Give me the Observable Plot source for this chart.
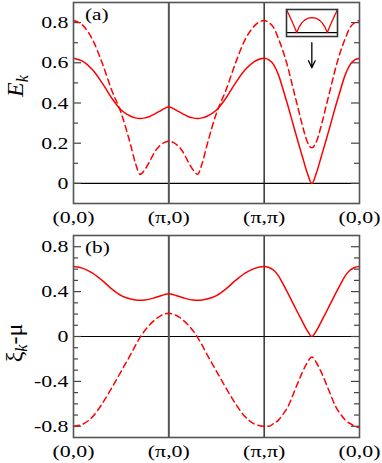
<!DOCTYPE html>
<html><head><meta charset="utf-8">
<script src="https://cdn.jsdelivr.net/npm/d3@7"></script>
<script src="https://cdn.jsdelivr.net/npm/@observablehq/plot@0.6"></script>
<style>
body{margin:0;background:#fff}
#root{position:relative;width:382px;height:463px;overflow:hidden}
#root svg{display:block}
</style>
</head><body><div id="root"></div>
<script>
// path coordinate: 0=(0,0), 1=(pi,0), 2=(pi,pi), 3=(0,0)
const kPath = [0,0.1,0.2,0.3,0.4,0.5,0.6,0.65,0.7,0.75,0.8,0.85,0.9,0.95,1.0,
  1.05,1.1,1.15,1.2,1.25,1.3,1.35,1.4,1.5,1.6,1.7,1.8,1.9,2.0,
  2.05,2.1,2.15,2.2,2.25,2.3,2.35,2.4,2.45,2.5,2.55,2.6,2.65,2.7,2.75,2.8,2.85,2.9,2.95,3.0];
// solid band (same curve in panels a and b)
const bandSolid = [0.623,0.607,0.565,0.50,0.425,0.365,0.334,0.326,0.323,0.326,0.333,0.345,0.358,0.372,0.38,
  0.372,0.358,0.345,0.333,0.326,0.323,0.326,0.334,0.365,0.425,0.50,0.565,0.607,0.623,
  0.615,0.59,0.54,0.465,0.385,0.30,0.216,0.135,0.055,0.0,0.055,0.135,0.216,0.30,0.385,0.465,0.54,0.59,0.615,0.623];
// panel (a) dashed
const dashedE = [0.81,0.785,0.715,0.60,0.465,0.35,0.19,0.10,0.045,0.07,0.11,0.155,0.185,0.203,0.21,
  0.203,0.185,0.155,0.11,0.07,0.045,0.10,0.19,0.35,0.465,0.60,0.715,0.785,0.81,
  0.80,0.775,0.72,0.655,0.575,0.48,0.385,0.29,0.21,0.177,0.21,0.29,0.385,0.48,0.575,0.655,0.72,0.775,0.80,0.81];
// panel (b) dashed
const dashedXi = [-0.80,-0.78,-0.715,-0.60,-0.46,-0.31,-0.16,-0.08,-0.005,0.055,0.105,0.145,0.178,0.198,0.207,
  0.198,0.178,0.145,0.105,0.055,-0.005,-0.08,-0.16,-0.31,-0.46,-0.60,-0.715,-0.78,-0.80,
  -0.80,-0.775,-0.745,-0.69,-0.625,-0.525,-0.42,-0.32,-0.236,-0.183,-0.236,-0.32,-0.42,-0.525,-0.625,-0.69,-0.745,-0.775,-0.80,-0.81];

const xTickPos = [0,1,2,3];
const xTickLabels = ["(0,0)","(π,0)","(π,π)","(0,0)"];
const yTicksA = [0,0.2,0.4,0.6,0.8];
const yLabelsA = ["0","0.2","0.4","0.6","0.8"];
const yMinorA = [0.1,0.3,0.5,0.7];
const yTicksB = [-0.8,-0.4,0,0.4,0.8];
const yLabelsB = ["-0.8","-0.4","0","0.4","0.8"];
const yMinorB = [-0.7,-0.6,-0.5,-0.3,-0.2,-0.1,0.1,0.2,0.3,0.5,0.6,0.7];
const vLines = [1,2];

// inset (zoom near the node)
const insetK = [0,0.05,0.1,0.15,0.2,0.225,0.25,0.3,0.35,0.4,0.45,0.5,0.55,0.6,0.65,0.7,0.75,0.775,0.8,0.85,0.9,0.95,1];
const insetE = [1,0.76,0.52,0.27,0.0,0.13,0.25,0.42,0.53,0.60,0.64,0.65,0.64,0.60,0.53,0.42,0.25,0.13,0.0,0.27,0.52,0.76,1];
const insetBox = {k0:2.234, k1:2.77, e0:0.73, e1:0.865};
const arrowRows = [{k:2.5, from:0.70, to:0.575}];

(function(){
const RED = "#ff0000";
const rows = kPath.map((k,i)=>({k, solid:bandSolid[i], dashA:dashedE[i], dashB:dashedXi[i]}));
const FONT = "Liberation Serif, Times New Roman, serif";
const STRETCH = 1.25;
const W = 382;

function panel({height, marginTop, marginBottom, yDomain, yTicks, yLabels, yMinor, dashKey, extra=[]}) {
  const fw = W - 73 - 23;
  return Plot.plot({
    width: W, height, marginLeft: 73, marginRight: 23, marginTop, marginBottom,
    style: {fontFamily: FONT, fontSize: "17.5px", background: "white", overflow: "visible"},
    x: {domain: [0,3], label: null},
    y: {domain: yDomain, label: null},
    marks: [
      Plot.ruleY([0], {stroke: "black", strokeWidth: 1.2}),
      Plot.ruleX(vLines, {stroke: (d)=> d===1 ? "#555" : "#222", strokeWidth: (d)=> d===1 ? 2 : 1.4}),
      Plot.ruleY(yTicks, {stroke: "#444", strokeWidth: 1.2, insetRight: fw - 8}),
      Plot.ruleY(yTicks, {stroke: "#444", strokeWidth: 1.2, insetLeft: fw - 8}),
      Plot.ruleY(yMinor, {stroke: "#444", strokeWidth: 1.2, insetRight: fw - 5}),
      Plot.ruleY(yMinor, {stroke: "#444", strokeWidth: 1.2, insetLeft: fw - 5}),
      Plot.line(rows, {x: "k", y: dashKey, stroke: RED, strokeWidth: 1.5, strokeDasharray: "6,4", curve: "monotone-x"}),
      Plot.line(rows, {x: "k", y: "solid", stroke: RED, strokeWidth: 1.5, curve: "monotone-x"}),
      ...extra,
      Plot.frame({stroke: "#555", strokeWidth: 1.6}),
      Plot.axisY({ticks: yTicks, tickFormat: d => yLabels[yTicks.indexOf(d)], tickSize: 0, tickPadding: 5, label: null}),
      Plot.axisX({ticks: xTickPos, tickFormat: d => xTickLabels[xTickPos.indexOf(d)], tickSize: 0, tickPadding: 7, label: null})
    ]
  });
}

function stretchText(svg) {
  svg.querySelectorAll("text").forEach(t => {
    const tr = t.getAttribute("transform") || "";
    const x = t.getAttribute("x");
    if (x !== null && x !== "" && !isNaN(+x)) {
      t.removeAttribute("x");
      t.setAttribute("transform", `${tr} translate(${x},0) scale(${STRETCH},1)`);
    } else {
      t.setAttribute("transform", `${tr} scale(${STRETCH},1)`);
    }
  });
}

const root = document.getElementById("root");

const plotA = panel({height: 230, marginTop: 2, marginBottom: 27, yDomain: [-0.1, 0.9],
  yTicks: yTicksA, yLabels: yLabelsA, yMinor: yMinorA, dashKey: "dashA",
  extra: [Plot.arrow(arrowRows, {x1: "k", x2: "k", y1: "from", y2: "to", stroke: "black", strokeWidth: 1.3, headLength: 9, headAngle: 50})]});
const plotB = panel({height: 233, marginTop: 5, marginBottom: 26, yDomain: [-0.9, 0.9],
  yTicks: yTicksB, yLabels: yLabelsB, yMinor: yMinorB, dashKey: "dashB"});

root.appendChild(plotA);
root.appendChild(plotB);

function addLabels(svg, tag, ylabelParts, lx, ly, size) {
  const s = d3.select(svg);
  s.append("text").attr("font-family", FONT).attr("font-size", 17).attr("text-anchor", "start")
    .attr("transform", `translate(85,${tag.y}) scale(${STRETCH},1)`).text(tag.text);
  const t = s.append("text").attr("font-family", FONT).attr("text-anchor", "middle")
    .attr("transform", `translate(${lx},${ly}) rotate(-90)`).attr("font-size", size);
  ylabelParts.forEach(p => {
    const ts = t.append("tspan").text(p.text);
    if (p.italic) ts.attr("font-style", "italic");
    if (p.size) ts.attr("font-size", p.size);
    if (p.dy) ts.attr("dy", p.dy);
  });
}

stretchText(plotA);
stretchText(plotB);
addLabels(plotA, {text: "(a)", y: 20}, [
  {text: "E", italic: true},
  {text: "k", italic: true, size: 16, dy: 5}
], 23, 86, 24);
addLabels(plotB, {text: "(b)", y: 23}, [
  {text: "ξ"},
  {text: "k", italic: true, size: 16, dy: 5},
  {text: "-μ", dy: -5}
], 22, 113, 24);

// inset positioned from the panel (a) scales
const xs = plotA.scale("x"), ys = plotA.scale("y");
const bx0 = xs.apply(insetBox.k0), bx1 = xs.apply(insetBox.k1);
const by0 = ys.apply(insetBox.e1), by1 = ys.apply(insetBox.e0);
const inset = Plot.plot({
  width: Math.round(bx1 - bx0), height: Math.round(by1 - by0), margin: 0,
  style: {background: "white", overflow: "visible"},
  x: {domain: [0,1], axis: null}, y: {domain: [-0.17, 1], axis: null},
  marks: [
    Plot.ruleY([0], {stroke: "black", strokeWidth: 1.3}),
    Plot.line(insetK.map((k,i)=>({k, e: insetE[i]})), {x: "k", y: "e", stroke: RED, strokeWidth: 1.3}),
    Plot.frame({stroke: "#333", strokeWidth: 1.6})
  ]
});
inset.style.position = "absolute";
inset.style.left = bx0 + "px";
inset.style.top = by0 + "px";
root.appendChild(inset);
})();
</script>
</body></html>
